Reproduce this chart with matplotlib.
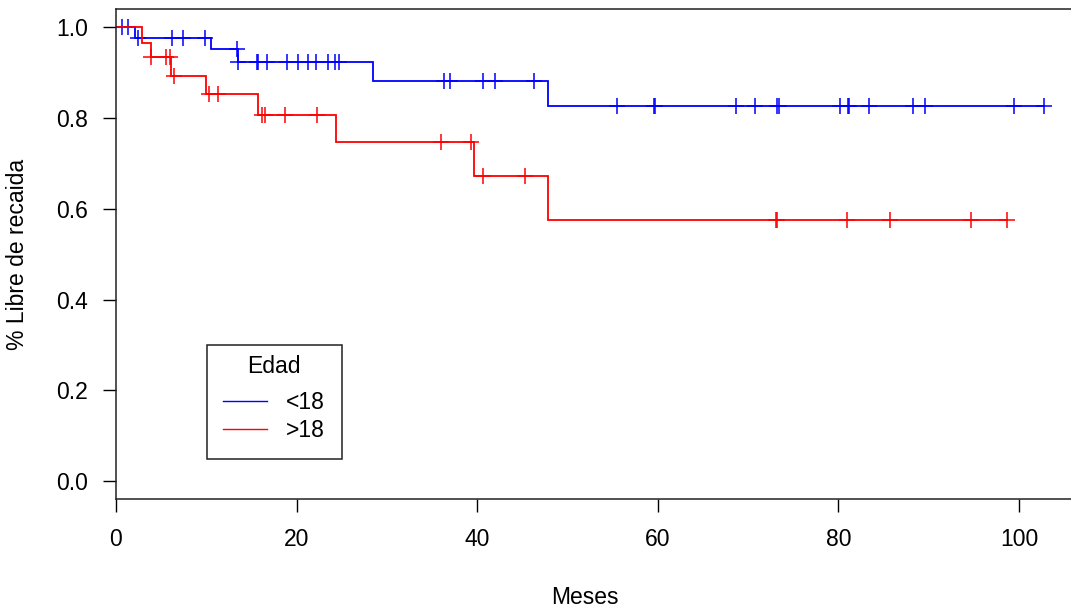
import numpy as np
import matplotlib
matplotlib.use("Agg")
import matplotlib.pyplot as plt

plt.rcParams['font.family'] = ['Liberation Sans', 'DejaVu Sans']

# Kaplan-Meier curves by age group: drop times and survival level after each drop
young_label = "<18"
young_event_times = [2.07, 10.56, 13.47, 28.5, 47.87]
young_levels = [0.975, 0.952, 0.922, 0.881, 0.826]
young_end = 102.77
young_censor = [0.66, 1.29, 2.44, 6.2, 7.42, 9.82, 13.44, 13.5, 15.58, 15.69,
                16.69, 18.97, 20.12, 21.3, 22.11, 23.51, 24.25, 24.73, 36.32,
                36.99, 40.61, 41.97, 46.29, 55.51, 59.55, 59.72, 68.66, 70.8,
                73.23, 73.45, 80.18, 81.03, 81.21, 83.42, 88.23, 89.59, 99.45,
                102.77]

adult_label = ">18"
adult_event_times = [2.88, 3.88, 6.13, 10.0, 15.76, 24.36, 39.65, 47.87]
adult_levels = [0.964, 0.933, 0.892, 0.853, 0.807, 0.746, 0.671, 0.575]
adult_end = 98.64
adult_censor = [3.9, 5.54, 5.94, 6.46, 10.26, 11.3, 16.14, 16.5, 18.71, 22.23,
                36.02, 39.28, 40.61, 45.29, 73.1, 73.25, 80.92, 85.72, 94.72,
                98.64]

x_ticks = [0, 20, 40, 60, 80, 100]
y_ticks = [0.0, 0.2, 0.4, 0.6, 0.8, 1.0]

W, H = 1071, 612
fig = plt.figure(figsize=(W / 100, H / 100), dpi=100)
ax_left, ax_right, ax_top, ax_bottom = 116, 1078, 9, 499.3
ax = fig.add_axes([ax_left / W, 1 - ax_bottom / H,
                   (ax_right - ax_left) / W, (ax_bottom - ax_top) / H])


def km_curve(ax, times, levels, end, censor, color, label):
    t = np.concatenate([[0.0], times, [end]])
    s = np.concatenate([[1.0], levels, [levels[-1]]])
    ax.step(t, s, where="post", color=color, lw=1.3, label=label,
            solid_joinstyle="miter")
    step_t = np.concatenate([[0.0], times])
    step_s = np.concatenate([[1.0], levels])
    c = np.asarray(censor)
    cs = step_s[np.searchsorted(step_t, c, side="right") - 1]
    ax.plot(c, cs, ls="none", marker="+", ms=11.5, mew=1.1, color=color)


km_curve(ax, young_event_times, young_levels, young_end, young_censor,
         "#0000ff", young_label)
km_curve(ax, adult_event_times, adult_levels, adult_end, adult_censor,
         "#ff0000", adult_label)

ax.set_xlim(0, (ax_right - ax_left) / 9.03)
ax.set_ylim(-0.0396, 1.0396)
ax.set_xticks(x_ticks)
ax.set_yticks(y_ticks)
ax.set_xticklabels([str(v) for v in x_ticks])
ax.set_yticklabels([f"{v:.1f}" for v in y_ticks])
ax.tick_params(axis="both", direction="out", length=9.5, width=1.0,
               labelsize=16.5, colors="black")
ax.tick_params(axis="y", pad=10.5)
ax.tick_params(axis="x", pad=11)
for sp in ax.spines.values():
    sp.set_linewidth(1.1)
    sp.set_color("#222222")

ax.set_xlabel("Meses", fontsize=16.5)
ax.xaxis.label.set_va("center")
ax.xaxis.set_label_coords((585 - ax_left) / (ax_right - ax_left),
                          (ax_bottom - 598) / (ax_bottom - ax_top))
ax.set_ylabel("% Libre de recaida", fontsize=16.5)
ax.yaxis.label.set_va("center")
ax.yaxis.set_label_coords((18 - ax_left) / (ax_right - ax_left), 0.5)

leg = ax.legend(title="Edad", loc="upper left",
                bbox_to_anchor=(206.7 / W, 1 - 345 / H),
                bbox_transform=fig.transFigure, borderaxespad=0,
                fancybox=False, edgecolor="#222222", framealpha=1,
                fontsize=16.5, title_fontsize=16.5, handlelength=1.9,
                handletextpad=0.85, labelspacing=0.23, borderpad=0.436)
leg.get_frame().set_linewidth(1.1)
for h in leg.legend_handles:
    h.set_linewidth(1.0)
# extra room around the entries and between title and entries
leg._legend_handle_box.pad = 4.7
leg._legend_box.sep = 4.5

fig.savefig("out.png", dpi=100)
